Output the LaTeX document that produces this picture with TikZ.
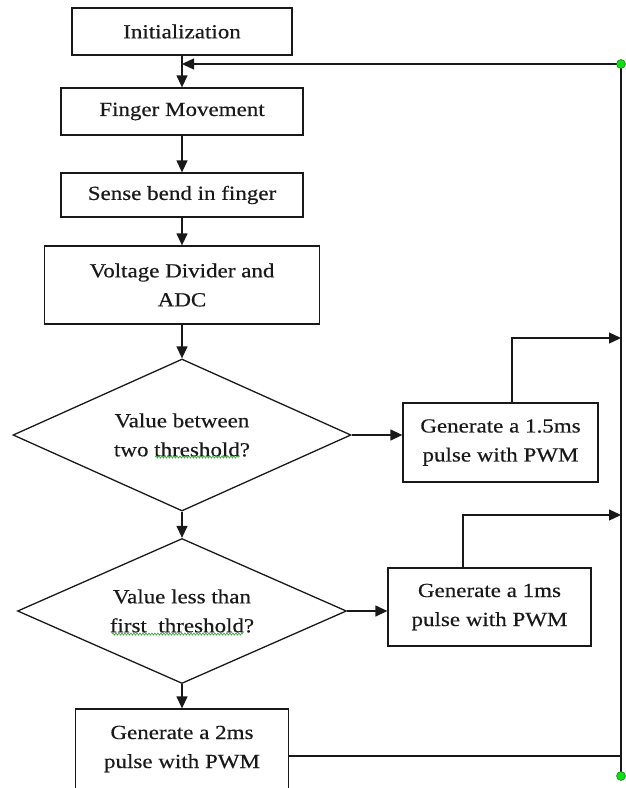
\documentclass[tikz,border=0pt]{standalone}
\usepackage{fontspec}
\setmainfont{Liberation Serif}[FakeStretch=1.15,FakeBold=0.4]
\usetikzlibrary{arrows.meta,shapes.geometric,decorations.pathmorphing}
\definecolor{dotgreen}{RGB}{20,220,20}
\definecolor{wavygreen}{RGB}{60,170,60}
\definecolor{ink}{RGB}{25,25,25}
\begin{document}
\begin{tikzpicture}[x=1pt,y=-1pt,
  lbl/.style={font=\fontsize{20}{29}\selectfont, align=center, text=ink},
  box/.style={lbl, draw=ink, line width=1.3pt, rectangle, inner sep=0pt},
  dec/.style={lbl, draw=ink, diamond, aspect=2.2, line width=1.3pt, inner sep=0pt},
  arr/.style={-{Triangle[length=12pt,width=11pt]}, draw=ink, line width=1.3pt},
  ln/.style={draw=ink, line width=1.3pt},
  dot/.style={circle, fill=dotgreen, draw=green!40!black, line width=0.4pt, inner sep=0pt, minimum size=9pt},
  wavy/.style={draw=wavygreen, line width=0.7pt, decorate, decoration={snake, amplitude=1pt, segment length=3pt}}]
\useasboundingbox (0,0) rectangle (626,788);

\node[box, minimum width=220pt, minimum height=47pt] (init) at (182,31.5) {Initialization};
\node[box, minimum width=242pt, minimum height=47pt] (finger) at (182,111.5) {Finger Movement};
\node[box, minimum width=242pt, minimum height=44pt] (sense) at (182,195) {Sense bend in finger};
\node[box, minimum width=275pt, minimum height=78pt] (volt) at (182,285) {Voltage Divider and\\ADC};
\node[dec, minimum width=338pt, minimum height=152pt] (d1) at (182,435) {Value between\\two threshold?};
\node[box, minimum width=195pt, minimum height=79pt] (b15) at (500.5,442.5) {Generate a 1.5ms\\pulse with PWM};
\node[dec, minimum width=329pt, minimum height=145pt] (d2) at (182,611) {Value less than\\first\ \ threshold?};
\node[box, minimum width=203pt, minimum height=78pt] (b1) at (489.5,607) {Generate a 1ms\\pulse with PWM};
\node[box, minimum width=213pt, minimum height=80pt] (b2) at (182,749) {Generate a 2ms\\pulse with PWM};

\coordinate (tdot) at (621,64);
\coordinate (bdot) at (621,776);
\coordinate (c15) at (512,338);
\coordinate (c1) at (463,515);
\coordinate (c2) at (621,756);

\draw[arr] (init) -- (finger);
\draw[arr] (finger) -- (sense);
\draw[arr] (sense) -- (volt);
\draw[arr] (volt) -- (d1);
\draw[arr] (d1) -- (d2);
\draw[arr] (d2) -- (b2);
\draw[arr] (d1.east) -- (d1.east -| b15.west);
\draw[arr] (d2.east) -- (d2.east -| b1.west);
\draw[arr] (b15.north -| c15) -- (c15) -- (c15 -| tdot);
\draw[arr] (b1.north -| c1) -- (c1) -- (c1 -| tdot);
\draw[ln] (b2.east |- c2) -- (c2);
\draw[ln] (bdot) -- (tdot);
\draw[arr] (tdot) -- (tdot -| init.south);

\draw[wavy] (155,457) -- (239,457);
\draw[wavy] (112,634) -- (243,634);

\node[dot] (td) at (tdot) {};
\node[dot] (bd) at (bdot) {};
\end{tikzpicture}
\end{document}
